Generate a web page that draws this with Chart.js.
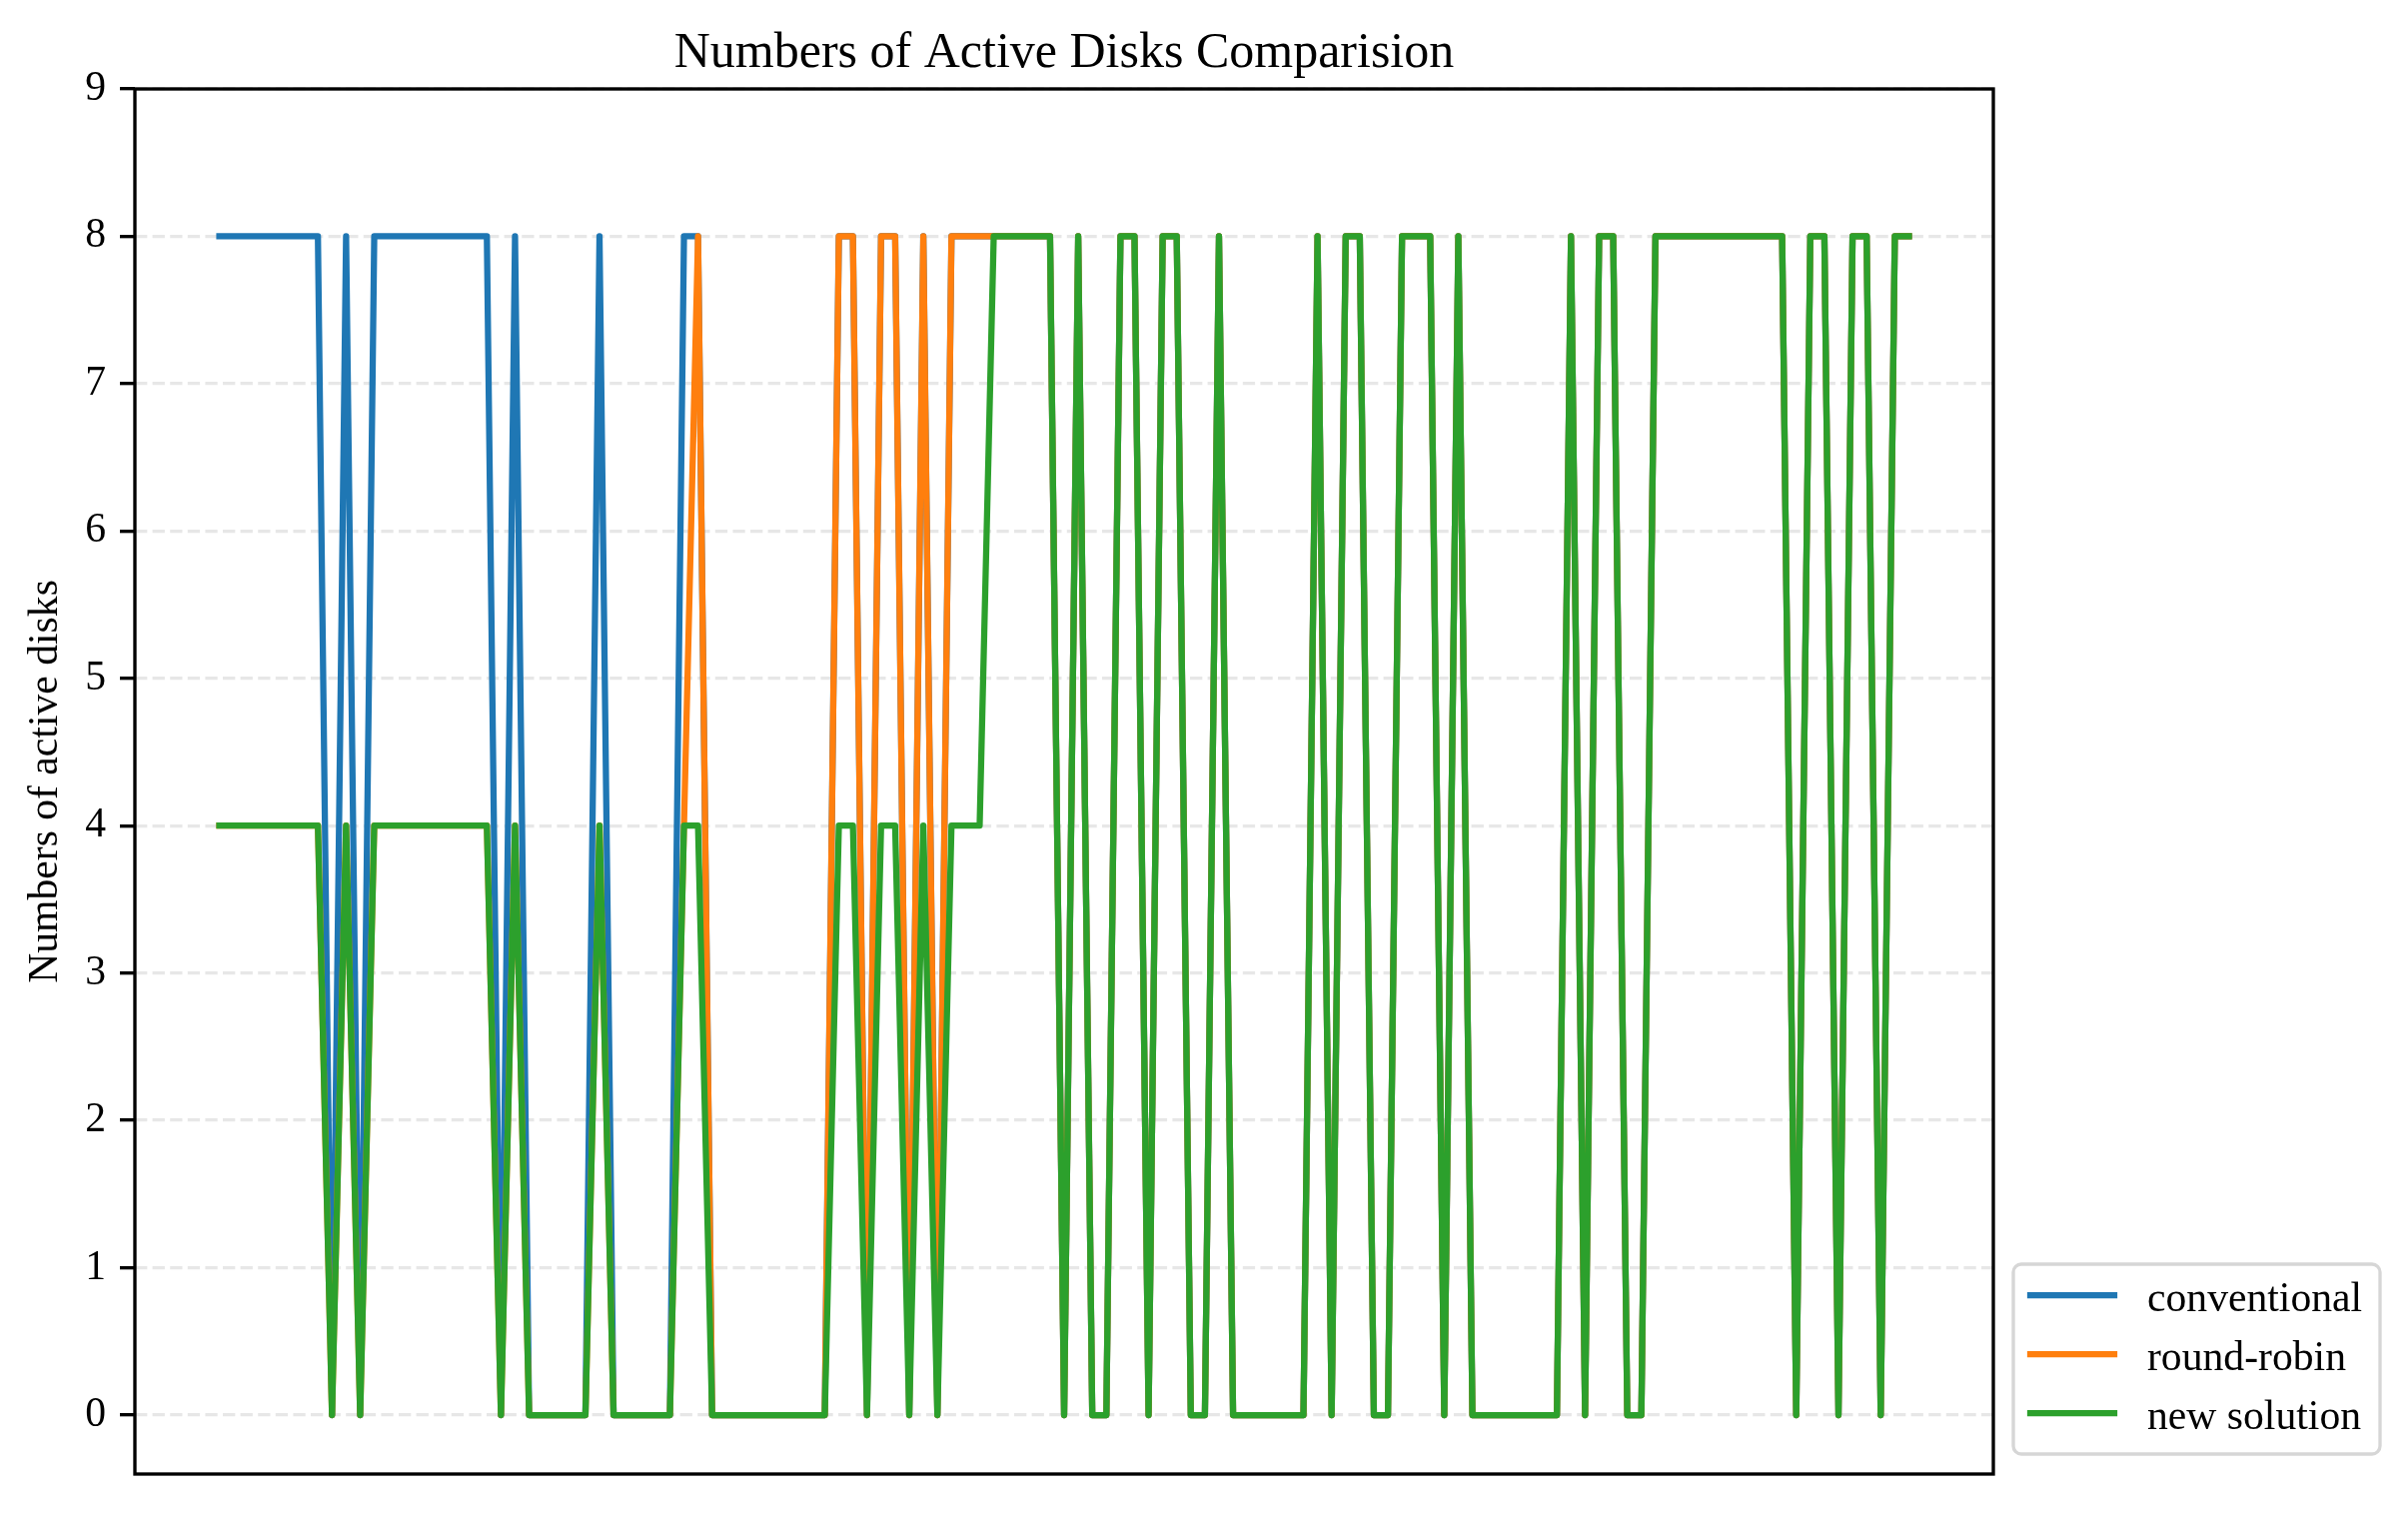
<!DOCTYPE html>
<html>
<head>
<meta charset="utf-8">
<title>Numbers of Active Disks Comparision</title>
<script src="https://cdn.jsdelivr.net/npm/chart.js@4.4.1/dist/chart.umd.min.js"></script>
<style>
  html, body { margin: 0; padding: 0; background: #fff; overflow: hidden; }
  canvas { display: block; }
</style>
</head>
<body>
<canvas id="chart" width="2410" height="1520"></canvas>
<script>
// time steps (x positions, no tick labels on this axis)
const steps = Array.from({ length: 121 }, (_, i) => i);

const conventional = [
  8, 8, 8, 8, 8, 8, 8, 8, 0, 8,
  0, 8, 8, 8, 8, 8, 8, 8, 8, 8,
  0, 8, 0, 0, 0, 0, 0, 8, 0, 0,
  0, 0, 0, 8, 8, 0, 0, 0, 0, 0,
  0, 0, 0, 0, 8, 8, 0, 8, 8, 0,
  8, 0, 8, 8, 8, 8, 8, 8, 8, 8,
  0, 8, 0, 0, 8, 8, 0, 8, 8, 0,
  0, 8, 0, 0, 0, 0, 0, 0, 8, 0,
  8, 8, 0, 0, 8, 8, 8, 0, 8, 0,
  0, 0, 0, 0, 0, 0, 8, 0, 8, 8,
  0, 0, 8, 8, 8, 8, 8, 8, 8, 8,
  8, 8, 0, 8, 8, 0, 8, 8, 0, 8, 8
];

const roundRobin = [
  4, 4, 4, 4, 4, 4, 4, 4, 0, 4,
  0, 4, 4, 4, 4, 4, 4, 4, 4, 4,
  0, 4, 0, 0, 0, 0, 0, 4, 0, 0,
  0, 0, 0, 4, 8, 0, 0, 0, 0, 0,
  0, 0, 0, 0, 8, 8, 0, 8, 8, 0,
  8, 0, 8, 8, 8, 8, 8, 8, 8, 8,
  0, 8, 0, 0, 8, 8, 0, 8, 8, 0,
  0, 8, 0, 0, 0, 0, 0, 0, 8, 0,
  8, 8, 0, 0, 8, 8, 8, 0, 8, 0,
  0, 0, 0, 0, 0, 0, 8, 0, 8, 8,
  0, 0, 8, 8, 8, 8, 8, 8, 8, 8,
  8, 8, 0, 8, 8, 0, 8, 8, 0, 8, 8
];

const newSolution = [
  4, 4, 4, 4, 4, 4, 4, 4, 0, 4,
  0, 4, 4, 4, 4, 4, 4, 4, 4, 4,
  0, 4, 0, 0, 0, 0, 0, 4, 0, 0,
  0, 0, 0, 4, 4, 0, 0, 0, 0, 0,
  0, 0, 0, 0, 4, 4, 0, 4, 4, 0,
  4, 0, 4, 4, 4, 8, 8, 8, 8, 8,
  0, 8, 0, 0, 8, 8, 0, 8, 8, 0,
  0, 8, 0, 0, 0, 0, 0, 0, 8, 0,
  8, 8, 0, 0, 8, 8, 8, 0, 8, 0,
  0, 0, 0, 0, 0, 0, 8, 0, 8, 8,
  0, 0, 8, 8, 8, 8, 8, 8, 8, 8,
  8, 8, 0, 8, 8, 0, 8, 8, 0, 8, 8
];

const yTicks = [0, 1, 2, 3, 4, 5, 6, 7, 8, 9];
const seriesNames = ['conventional', 'round-robin', 'new solution'];
const seriesColors = ['#1f77b4', '#ff7f0e', '#2ca02c'];

const serif = "'Liberation Serif', 'Times New Roman', Times, serif";
const pt = 300 / 72;

// black box round the plot area, drawn over the lines like matplotlib spines
const axesFrame = {
  id: 'axesFrame',
  afterDatasetsDraw(chart) {
    const { ctx, chartArea: a } = chart;
    ctx.save();
    ctx.strokeStyle = '#000';
    ctx.lineWidth = 0.8 * pt;
    ctx.strokeRect(a.left, a.top, a.right - a.left, a.bottom - a.top);
    ctx.restore();
  }
};

// legend outside the axes, bottom right, grey rounded frame
const sideLegend = {
  id: 'sideLegend',
  afterDraw(chart) {
    const { ctx, chartArea: a } = chart;
    const w = 367, h = 190, rowH = 59;
    const x = a.right + 20, y = a.bottom - 20 - h;
    ctx.save();
    ctx.fillStyle = 'rgba(255,255,255,0.8)';
    ctx.strokeStyle = '#d6d6d6';
    ctx.lineWidth = 0.8 * pt;
    ctx.beginPath();
    ctx.roundRect(x, y, w, h, 8);
    ctx.fill();
    ctx.stroke();
    ctx.font = (10 * pt) + 'px ' + serif;
    ctx.textBaseline = 'alphabetic';
    chart.data.datasets.forEach((ds, i) => {
      const cy = y + 31 + i * rowH;
      ctx.strokeStyle = ds.borderColor;
      ctx.lineWidth = ds.borderWidth;
      ctx.lineCap = 'square';
      ctx.beginPath();
      ctx.moveTo(x + 17, cy);
      ctx.lineTo(x + 101, cy);
      ctx.stroke();
      ctx.fillStyle = '#000';
      ctx.fillText(ds.label, x + 134, cy + 15.7);
    });
    ctx.restore();
  }
};

new Chart(document.getElementById('chart'), {
  type: 'line',
  data: {
    labels: steps,
    datasets: [conventional, roundRobin, newSolution].map((values, i) => ({
      label: seriesNames[i],
      data: values,
      borderColor: seriesColors[i],
      backgroundColor: seriesColors[i],
      borderWidth: 1.5 * pt,
      borderJoinStyle: 'round',
      borderCapStyle: 'square',
      pointRadius: 0,
      pointHoverRadius: 0,
      tension: 0,
      fill: false,
      order: 3 - i
    }))
  },
  options: {
    responsive: false,
    devicePixelRatio: 1,
    animation: false,
    events: [],
    layout: { padding: { left: 0, right: 415, top: 0, bottom: 45 } },
    plugins: {
      legend: { display: false },
      tooltip: { enabled: false },
      title: {
        display: true,
        fullSize: false,
        text: 'Numbers of Active Disks Comparision',
        color: '#000',
        font: { family: serif, size: 12 * pt, weight: 'normal', lineHeight: 1.2 },
        padding: { top: 24, bottom: 5 }
      }
    },
    scales: {
      x: { type: 'linear', min: -6, max: 126, display: false },
      y: {
        min: -0.4,
        max: 9,
        afterBuildTicks: s => { s.ticks = yTicks.map(v => ({ value: v })); },
        afterFit: s => { s.width = 135; },
        ticks: { color: '#000', font: { family: serif, size: 10 * pt }, padding: 14, autoSkip: false },
        grid: {
          color: 'rgba(176,176,176,0.3)',
          lineWidth: 0.8 * pt,
          tickLength: 15,
          tickColor: '#000',
          tickWidth: 0.8 * pt,
          tickBorderDash: []
        },
        border: { display: false, dash: [12.3, 5.3] },
        title: {
          display: true,
          text: 'Numbers of active disks',
          color: '#000',
          font: { family: serif, size: 10 * pt },
          padding: { top: 21, bottom: 0 }
        }
      }
    }
  },
  plugins: [axesFrame, sideLegend]
});
</script>
</body>
</html>
